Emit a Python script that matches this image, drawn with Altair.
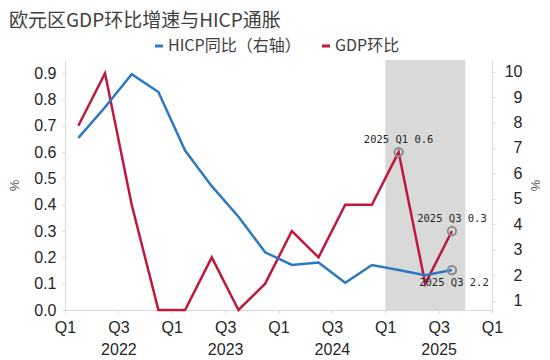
import altair as alt
import pandas as pd

# ---- data ----
quarters = ["2022Q1", "2022Q2", "2022Q3", "2022Q4",
            "2023Q1", "2023Q2", "2023Q3", "2023Q4",
            "2024Q1", "2024Q2", "2024Q3", "2024Q4",
            "2025Q1", "2025Q2", "2025Q3"]
gdp_qoq = [0.7, 0.9, 0.4, 0.0, 0.0, 0.2, 0.0, 0.1, 0.3, 0.2, 0.4, 0.4, 0.6, 0.1, 0.3]
hicp_yoy = [7.4, 8.6, 9.9, 9.2, 6.9, 5.5, 4.3, 2.9, 2.4, 2.5, 1.7, 2.4, 2.2, 2.0, 2.2]
series_names = ["HICP同比（右轴）", "GDP环比"]
series_colors = ["#2e78c2", "#c0183c"]
gdp_marked = ["2025Q1", "2025Q3"]
hicp_marked = ["2025Q3"]
highlight = ["2025Q1", "2025Q4"]
left_ticks = [0.0, 0.1, 0.2, 0.3, 0.4, 0.5, 0.6, 0.7, 0.8, 0.9]
right_ticks = [1, 2, 3, 4, 5, 6, 7, 8, 9, 10]
x_ticks = [0, 2, 4, 6, 8, 10, 12, 14, 16]
first_year = 2022
title_text = "欧元区GDP环比增速与HICP通胀"


def qpos(q):
    return (int(q[:4]) - first_year) * 4 + int(q[-1]) - 1


pos = [qpos(q) + 0.5 for q in quarters]
qlab = [f"{q[:4]} Q{q[-1]}" for q in quarters]

gdp_df = pd.DataFrame({"pos": pos, "value": gdp_qoq, "series": series_names[1],
                       "quarter": quarters, "qlab": qlab})
hicp_df = pd.DataFrame({"pos": pos, "value": hicp_yoy, "series": series_names[0],
                        "quarter": quarters, "qlab": qlab})
gdp_df["label"] = gdp_df["qlab"] + " " + gdp_df["value"].map(lambda v: f"{v:.1f}")
hicp_df["label"] = hicp_df["qlab"] + " " + hicp_df["value"].map(lambda v: f"{v:.1f}")
gdp_ann = gdp_df[gdp_df["quarter"].isin(gdp_marked)]
hicp_ann = hicp_df[hicp_df["quarter"].isin(hicp_marked)]
band_df = pd.DataFrame({"start": [qpos(highlight[0])], "end": [qpos(highlight[1])],
                        "y0": [0.0], "y1": [0.95]})

AX_GRAY = "#d9d9d9"
LABEL_C = "#262626"

x_axis = alt.Axis(values=x_ticks, title=None, grid=False,
                  labelExpr=f"datum.value % 4 == 2 ? ['Q3', '' + ({first_year} + floor(datum.value / 4))] : 'Q1'",
                  labelLineHeight=22, labelPadding=6, labelFlush=False)
x_enc = alt.X("pos:Q", scale=alt.Scale(domain=[0, 16], nice=False, zero=False), axis=x_axis)

yl_scale = alt.Scale(domain=[0, 0.95], nice=False, zero=False)
yr_scale = alt.Scale(domain=[0.63, 10.46], nice=False, zero=False)
yl_axis = alt.Axis(values=left_ticks, format=".1f", title="%", orient="left",
                   labelPadding=6, titlePadding=12, grid=False)
yr_axis = alt.Axis(values=right_ticks, format="d", title="%", orient="right",
                   labelAlign="right", labelPadding=27, titlePadding=5, grid=False)

color_enc = alt.Color("series:N",
                      scale=alt.Scale(domain=series_names, range=series_colors),
                      legend=alt.Legend(title=None, orient="none", direction="horizontal",
                                        legendX=86, legendY=-22,
                                        symbolType="stroke", symbolSize=64,
                                        symbolStrokeWidth=3, labelOffset=1,
                                        columnPadding=15,
                                        labelFont="Noto Sans CJK SC", labelFontSize=16,
                                        labelColor="#404040"))

band = alt.Chart(band_df).mark_rect(color="#d9d9d9").encode(
    x=alt.X("start:Q", scale=alt.Scale(domain=[0, 16], nice=False, zero=False), axis=x_axis),
    x2="end:Q",
    y=alt.Y("y0:Q", scale=yl_scale, axis=yl_axis),
    y2="y1:Q",
)

gdp_line = alt.Chart(gdp_df).mark_line(strokeWidth=2.5).encode(
    x=x_enc, y=alt.Y("value:Q", scale=yl_scale, axis=yl_axis), color=color_enc)
gdp_pts = alt.Chart(gdp_ann).mark_point(shape="circle", filled=False, size=70,
                                        strokeWidth=2, color="#8c8c8c", opacity=1).encode(
    x=x_enc, y=alt.Y("value:Q", scale=yl_scale, axis=yl_axis))
gdp_txt = alt.Chart(gdp_ann).mark_text(font="DejaVu Sans Mono", fontSize=10.5, dy=-12,
                                       color="#262626", baseline="middle").encode(
    x=x_enc, y=alt.Y("value:Q", scale=yl_scale, axis=yl_axis), text="label:N")

hicp_line = alt.Chart(hicp_df).mark_line(strokeWidth=2.5).encode(
    x=x_enc, y=alt.Y("value:Q", scale=yr_scale, axis=yr_axis), color=color_enc)
hicp_pts = alt.Chart(hicp_ann).mark_point(shape="circle", filled=False, size=70,
                                          strokeWidth=2, color="#8c8c8c", opacity=1).encode(
    x=x_enc, y=alt.Y("value:Q", scale=yr_scale, axis=yr_axis))
hicp_txt = alt.Chart(hicp_ann).mark_text(font="DejaVu Sans Mono", fontSize=10.5, dy=13, dx=2,
                                         color="#262626", baseline="middle").encode(
    x=x_enc, y=alt.Y("value:Q", scale=yr_scale, axis=yr_axis), text="label:N")

left = alt.layer(band, gdp_line, gdp_pts, gdp_txt)
right = alt.layer(hicp_line, hicp_pts, hicp_txt)

chart = alt.layer(left, right).resolve_scale(y="independent").properties(
    width=427, height=250,
    padding={"left": 57, "top": 52, "right": 50, "bottom": 46},
    autosize=alt.AutoSizeParams(type="none"),
    title=alt.TitleParams(title_text, anchor="start", frame="group", dx=-56, offset=7,
                          font="Noto Sans CJK SC", fontSize=19, fontWeight="normal",
                          color="#404040"),
).configure_view(stroke=None).configure_axis(
    domainColor=AX_GRAY, tickColor=AX_GRAY, tickSize=3,
    labelFont="Liberation Sans", labelFontSize=16, labelColor=LABEL_C,
    titleFont="Liberation Sans", titleFontSize=13, titleFontWeight="normal",
    titleColor="#595959",
)

chart.save("out.html", embed_options={"renderer": "svg", "actions": False})
